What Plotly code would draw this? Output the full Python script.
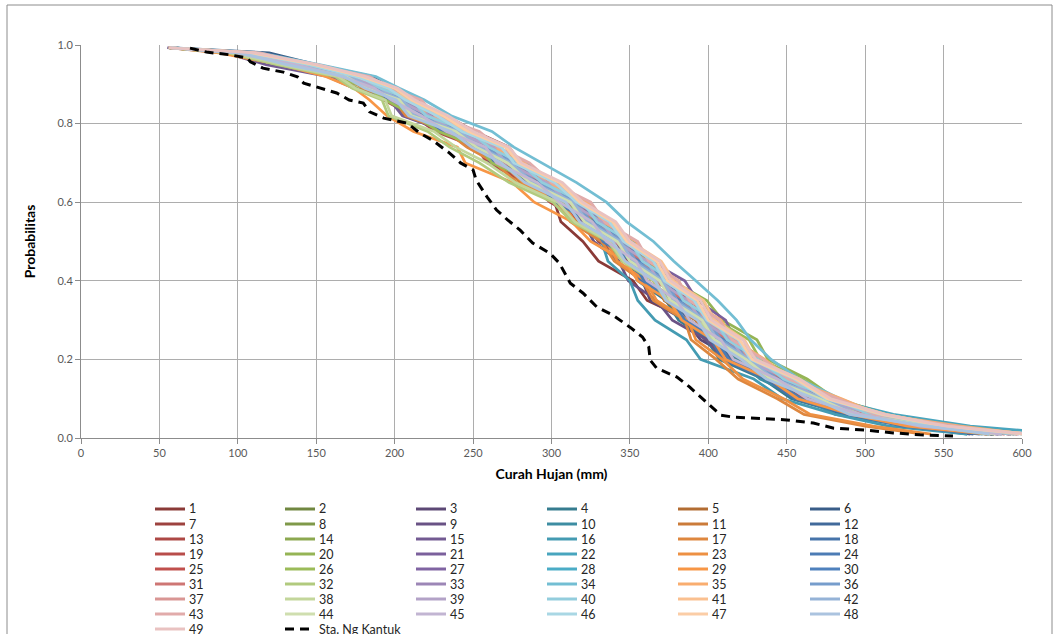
import plotly.graph_objects as go

# exceedance probability levels shared by the 49 generated series
prob_levels = [0.993, 0.98, 0.95, 0.92, 0.89, 0.86, 0.82, 0.78, 0.74, 0.70, 0.65, 0.60, 0.55,
               0.50, 0.45, 0.40, 0.35, 0.30, 0.25, 0.20, 0.15, 0.10, 0.06, 0.03, 0.01]

# rainfall (mm) read for each series at the probability levels above
s01 = [57,109,141,176,190,210,219,244,255,272,280,302,306,320,330,352,361,388,398,423,443,480,500,542,582]
s02 = [58,98,137,166,187,198,218,235,260,269,296,311,333,342,360,367,385,393,413,421,448,465,498,533,578]
s03 = [56,100,128,168,182,201,209,236,251,269,283,309,317,337,341,358,363,385,395,417,434,463,485,531,567]
s04 = [57,102,142,170,191,200,220,235,259,265,291,303,322,330,349,355,373,381,399,407,435,453,488,527,575]
s05 = [58,106,143,171,192,203,222,237,262,269,294,306,325,333,353,361,380,388,408,416,443,460,493,529,581]
s06 = [59,120,150,186,198,215,223,249,260,277,291,315,323,343,349,367,372,392,399,419,435,465,485,531,569]
s07 = [57,110,148,178,201,211,233,251,273,280,303,315,335,344,361,368,387,395,415,423,451,471,505,542,593]
s08 = [56,97,126,162,176,199,206,233,247,265,281,308,319,341,349,369,377,397,405,425,441,473,495,543,582]
s09 = [57,100,138,166,188,196,215,229,254,261,288,300,320,327,343,349,367,377,399,410,439,457,492,527,578]
s10 = [58,108,139,176,188,208,217,245,257,277,292,318,327,347,353,371,377,395,401,419,433,461,481,528,565]
s11 = [57,102,132,168,180,200,207,234,247,265,281,307,317,338,346,365,372,392,401,421,438,468,491,541,582]
s12 = [58,103,140,169,190,202,221,236,261,268,293,306,326,334,353,360,379,387,406,414,442,459,493,529,581]
s13 = [56,95,133,161,183,193,212,226,252,259,285,299,321,330,350,358,376,384,404,413,441,460,495,532,585]
s14 = [57,111,142,178,191,210,219,247,259,279,293,319,328,349,357,376,383,403,411,431,448,481,505,555,595]
s15 = [55,92,118,157,174,197,205,233,247,267,283,309,319,341,350,370,378,398,407,427,443,475,497,546,585]
s16 = [57,105,135,172,184,203,210,237,250,269,283,306,313,332,336,350,355,366,386,395,429,447,481,515,565]
s17 = [56,101,131,167,180,200,207,233,246,264,278,304,312,332,340,358,365,385,389,405,419,444,461,500,537]
s18 = [57,103,141,170,191,201,221,237,261,267,292,305,325,333,351,357,375,383,402,409,437,455,489,524,573]
s19 = [58,112,143,180,193,213,221,250,261,281,295,321,329,351,359,379,387,407,415,435,451,483,507,558,597]
s20 = [57,102,140,169,190,201,222,239,264,272,299,314,337,348,369,377,399,409,431,438,463,481,515,553,603]
s21 = [57,108,139,176,189,209,218,247,260,280,295,321,331,353,363,385,393,411,417,435,449,479,501,551,592]
s22 = [58,100,139,168,189,200,220,236,260,268,294,308,330,340,360,368,387,395,415,423,453,477,518,567,628]
s23 = [57,103,133,169,181,201,209,236,249,268,282,307,315,335,342,360,367,387,392,409,422,448,465,505,542]
s24 = [56,98,136,165,186,197,216,231,256,263,290,303,324,333,352,359,377,385,405,413,441,459,493,529,579]
s25 = [57,110,141,178,191,211,220,248,260,279,293,318,327,348,355,375,382,402,410,431,447,479,502,551,589]
s26 = [56,96,134,162,183,194,213,228,254,262,290,306,329,340,363,373,395,405,426,433,460,479,513,550,601]
s27 = [57,105,135,172,185,205,213,240,253,273,287,313,322,343,351,371,378,398,406,426,442,473,495,543,582]
s28 = [58,113,144,181,194,214,223,252,264,284,297,323,331,352,358,377,383,402,409,428,443,473,494,543,582]
s29 = [56,88,127,156,174,184,195,212,240,245,275,289,313,325,347,355,375,383,403,411,439,457,491,527,578]
s30 = [57,107,137,174,187,208,217,246,259,279,293,319,328,349,356,375,382,402,410,430,446,478,500,549,587]
s31 = [57,104,142,171,192,203,222,238,263,270,296,310,331,340,359,366,385,393,413,421,449,468,503,541,593]
s32 = [56,94,125,162,173,192,196,221,235,254,273,301,313,336,345,365,373,394,402,422,438,469,492,541,579]
s33 = [57,105,144,173,194,205,225,242,267,275,301,315,336,345,365,372,391,399,419,427,455,475,509,547,598]
s34 = [58,114,152,188,203,219,236,262,276,294,316,335,348,365,378,392,406,418,427,440,458,484,510,555,596]
s35 = [57,111,142,179,192,212,221,250,263,283,297,323,333,354,362,381,388,408,416,436,452,485,509,561,602]
s36 = [58,106,136,173,186,206,215,243,256,276,290,316,325,346,354,373,380,400,408,428,444,475,497,547,587]
s37 = [56,108,148,178,200,211,232,248,271,279,304,317,337,346,365,372,391,398,418,426,454,475,510,549,601]
s38 = [56,96,128,164,175,194,198,225,239,259,277,304,315,337,346,366,374,395,403,424,441,473,497,548,587]
s39 = [57,103,141,170,191,202,222,238,263,271,297,311,332,341,361,368,387,395,415,423,451,470,505,543,595]
s40 = [58,110,141,178,191,211,220,248,260,280,294,320,329,350,358,377,384,404,412,432,448,480,503,553,593]
s41 = [57,108,147,176,197,208,229,246,271,280,306,319,340,350,370,378,397,404,423,430,458,478,513,553,605]
s42 = [57,105,135,172,185,205,213,241,254,274,288,314,323,344,352,371,378,398,406,426,442,473,495,545,585]
s43 = [56,114,146,184,197,217,226,254,266,286,300,325,334,355,362,381,388,407,415,435,451,483,506,557,597]
s44 = [57,102,132,169,182,203,211,239,252,272,286,312,321,342,350,369,376,396,404,424,440,471,493,543,583]
s45 = [57,99,137,166,187,198,217,233,258,265,291,305,326,335,354,361,380,388,408,416,444,463,497,535,587]
s46 = [58,107,146,175,196,207,227,243,268,276,302,316,337,346,365,372,391,399,419,427,455,475,510,548,600]
s47 = [57,109,149,179,200,211,231,247,271,279,305,318,339,348,367,374,393,400,420,428,456,476,511,550,602]
s48 = [57,101,131,168,181,201,209,236,249,268,283,309,318,339,347,366,373,393,401,421,437,468,490,540,579]
s49 = [56,111,151,181,202,213,234,250,273,281,307,320,341,350,369,376,395,402,422,430,458,478,513,552,604]

series_values = [s01, s02, s03, s04, s05, s06, s07, s08, s09, s10, s11, s12, s13, s14, s15, s16, s17,
                 s18, s19, s20, s21, s22, s23, s24, s25, s26, s27, s28, s29, s30, s31, s32, s33, s34,
                 s35, s36, s37, s38, s39, s40, s41, s42, s43, s44, s45, s46, s47, s48, s49]
series_names = [str(i) for i in range(1, 50)]

# observed station curve
kantuk_name = "Sta. Ng Kantuk"
kantuk_x = [69.5, 80, 95, 106, 108, 116, 129, 138, 142, 150, 163, 171, 180, 184, 193, 208, 216, 224,
            235, 242, 250, 252, 259, 265, 272, 280, 288, 299, 305, 312, 320, 329, 339, 350, 358, 362,
            363, 367, 380, 388, 397, 403, 408, 416, 450, 467, 480, 501, 518, 535, 556]
kantuk_p = [0.992, 0.982, 0.975, 0.967, 0.957, 0.941, 0.931, 0.919, 0.903, 0.893, 0.878, 0.860, 0.852,
            0.830, 0.814, 0.801, 0.776, 0.758, 0.725, 0.700, 0.682, 0.656, 0.613, 0.580, 0.555, 0.529,
            0.496, 0.470, 0.445, 0.394, 0.369, 0.333, 0.313, 0.282, 0.257, 0.232, 0.198, 0.178, 0.155,
            0.130, 0.097, 0.075, 0.058, 0.053, 0.046, 0.038, 0.025, 0.020, 0.013, 0.008, 0.005]

# ---- styling ----
base_cols = ["#C0504D", "#9BBB59", "#8064A2", "#4BACC6", "#F79646", "#4F81BD"]
row_mod = [("s", 0.72), ("s", 0.82), ("s", 0.90), ("s", 0.96), ("s", 1.0),
           ("t", 0.22), ("t", 0.40), ("t", 0.52), ("t", 0.65)]


def mod_color(hexc, mod):
    r, g, b = int(hexc[1:3], 16), int(hexc[3:5], 16), int(hexc[5:7], 16)
    kind, f = mod
    if kind == "s":
        r, g, b = r * f, g * f, b * f
    else:
        r, g, b = r + (255 - r) * f, g + (255 - g) * f, b + (255 - b) * f
    return "#%02x%02x%02x" % (int(round(r)), int(round(g)), int(round(b)))


FONT = "Lato, Carlito, Calibri, sans-serif"
W, H = 1059, 634
L_M, R_M, T_M, B_M = 81, 37, 45, 196
PW, PH = W - L_M - R_M, H - T_M - B_M


def px_to_paper_x(px):
    return (px - L_M) / PW


def px_to_paper_y(py):
    return (H - B_M - py) / PH


series_colors = [mod_color(base_cols[i % 6], row_mod[i // 6]) for i in range(len(series_values))]

fig = go.Figure()
for i, xs in enumerate(series_values):
    fig.add_trace(go.Scatter(
        x=xs, y=prob_levels, mode="lines", name=series_names[i],
        line=dict(color=series_colors[i], width=2.75), showlegend=False,
        hoverinfo="x+y+name"))

KANTUK_DASH = "9px,6px"
fig.add_trace(go.Scatter(
    x=kantuk_x, y=kantuk_p, mode="lines", name=kantuk_name,
    line=dict(color="black", width=3, dash=KANTUK_DASH), showlegend=False))

# ---- legend laid out as in the reference: 6 columns, tight rows ----
col_starts = [155, 285, 416, 547, 678, 810]
row0, row_step, sample_len = 509, 15, 30
entries = [(series_names[i], series_colors[i], "solid", 3, i) for i in range(len(series_names))]
entries.append((kantuk_name, "black", KANTUK_DASH, 3, 49))  # column 2, last row

annotations = []
shapes = []
for name, color, dash, lw, idx in entries:
    if idx < 49:
        col, row = idx % 6, idx // 6
    else:
        col, row = 1, 8
    cx = col_starts[col]
    ry = row0 + row * row_step
    shapes.append(dict(type="line", xref="paper", yref="paper",
                       x0=px_to_paper_x(cx), x1=px_to_paper_x(cx + sample_len),
                       y0=px_to_paper_y(ry), y1=px_to_paper_y(ry),
                       line=dict(color=color, width=lw, dash=dash)))
    annotations.append(dict(xref="paper", yref="paper", x=px_to_paper_x(cx + sample_len + 2),
                            y=px_to_paper_y(ry), xanchor="left", yanchor="middle",
                            text=name, showarrow=False,
                            font=dict(family=FONT, size=12.5, color="#262626")))

# outer chart-area border
shapes.append(dict(type="rect", xref="paper", yref="paper",
                   x0=px_to_paper_x(7), x1=px_to_paper_x(1052),
                   y0=px_to_paper_y(700), y1=px_to_paper_y(5),
                   line=dict(color="#8C8C8C", width=1), fillcolor="rgba(0,0,0,0)", layer="below"))

fig.update_layout(
    width=W, height=H,
    margin=dict(l=L_M, r=R_M, t=T_M, b=B_M, autoexpand=False),
    paper_bgcolor="white", plot_bgcolor="white",
    font=dict(family=FONT, size=11, color="#595959"),
    showlegend=False,
    annotations=annotations,
    shapes=shapes,
)

fig.update_xaxes(
    range=[0, 600], tick0=0, dtick=50, showgrid=True, gridcolor="#ADADAD", gridwidth=1,
    zeroline=False, showline=True, linecolor="#8C8C8C", linewidth=1,
    ticks="outside", ticklen=5, tickcolor="#8C8C8C",
    tickfont=dict(family=FONT, size=11, color="#595959"),
    title=dict(text="<b>Curah Hujan (mm)</b>", standoff=10,
               font=dict(family=FONT, size=14, color="#000000")))

fig.update_yaxes(
    range=[0, 1], tick0=0, dtick=0.2, tickformat=".1f", showgrid=True, gridcolor="#ADADAD",
    gridwidth=1, zeroline=False, showline=True, linecolor="#8C8C8C", linewidth=1,
    ticks="outside", ticklen=5, tickcolor="#8C8C8C",
    tickfont=dict(family=FONT, size=11, color="#595959"),
    title=dict(text="<b>Probabilitas</b>", standoff=18,
               font=dict(family=FONT, size=14, color="#000000")))

fig.write_html("out.html", config={"displayModeBar": False},
               post_script="document.body.style.margin='0px';")
